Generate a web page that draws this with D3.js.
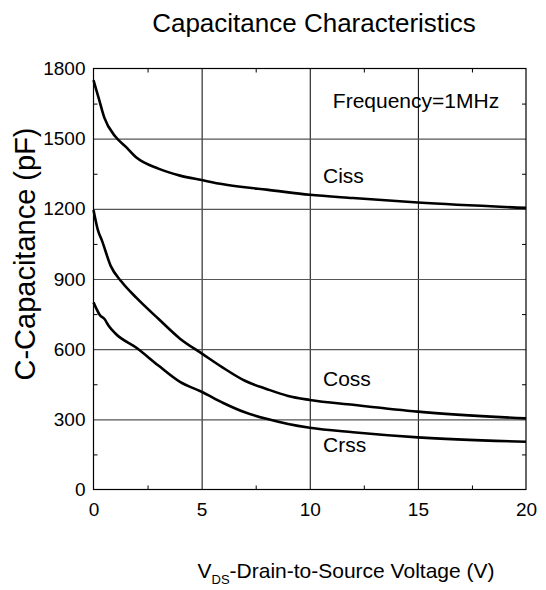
<!DOCTYPE html>
<html>
<head>
<meta charset="utf-8">
<script src="https://cdn.jsdelivr.net/npm/d3@7"></script>
<style>
  body { margin: 0; background: #fff; }
  text { font-family: Arial, "Liberation Sans", sans-serif; fill: #000; }
</style>
</head>
<body>
<script>
// values
const xTicks = [0, 5, 10, 15, 20];
const yTicks = [0, 300, 600, 900, 1200, 1500, 1800];
const xMinor = [2.5, 7.5, 12.5, 17.5];
const yMinor = [150, 450, 750, 1050, 1350, 1650];

const cissV = [0, 0.25, 0.5, 1, 1.5, 2, 3, 4, 5, 6, 7, 8, 10, 12, 15, 20];
const ciss = [1750, 1670, 1590, 1510, 1465, 1418, 1372, 1342, 1323, 1305, 1292, 1282, 1260, 1246, 1227, 1204];

const cossV = [0, 0.2, 0.4, 0.8, 1.3, 2, 3, 4, 5, 6, 7, 8, 9, 10, 12, 15, 20];
const coss = [1195, 1110, 1062, 955, 888, 818, 730, 645, 582, 520, 465, 430, 400, 383, 362, 333, 304];

const crssV = [0, 0.1, 0.3, 0.5, 0.7, 1, 2, 3, 4, 5, 6, 7, 8, 9, 10, 12, 15, 20];
const crss = [800, 780, 745, 730, 700, 668, 605, 530, 460, 418, 370, 330, 302, 280, 264, 245, 223, 204];

const width = 546;
const height = 590;
const pLeft = 93.5, pRight = 526, pTop = 68.5, pBottom = 489.5;

const x = d3.scaleLinear().domain([0, 20]).range([pLeft, pRight]);
const y = d3.scaleLinear().domain([0, 1800]).range([pBottom, pTop]);

const svg = d3.select("body").append("svg")
    .attr("width", width)
    .attr("height", height);

// GRID
svg.append("g")
    .attr("transform", `translate(0, ${pBottom})`)
    .call(d3.axisBottom(x).tickValues(xTicks.slice(1, -1)).tickSize(-(pBottom - pTop)).tickFormat(""))
    .call(g => g.select(".domain").remove())
    .call(g => g.selectAll("line").attr("stroke", "#000").attr("stroke-width", 1));
svg.append("g")
    .attr("transform", `translate(${pLeft}, 0)`)
    .call(d3.axisLeft(y).tickValues(yTicks.slice(1, -1)).tickSize(-(pRight - pLeft)).tickFormat(""))
    .call(g => g.select(".domain").remove())
    .call(g => g.selectAll("line").attr("stroke", "#555").attr("stroke-width", 1.2));

// minor ticks pointing inward on all four sides
const minor = (axis, tr) => svg.append("g")
    .attr("transform", tr)
    .call(axis.tickSize(-4).tickFormat(""))
    .call(g => g.select(".domain").remove())
    .call(g => g.selectAll("line").attr("stroke", "#000"));
minor(d3.axisBottom(x).tickValues(xMinor), `translate(0, ${pBottom})`);
minor(d3.axisTop(x).tickValues(xMinor), `translate(0, ${pTop})`);
minor(d3.axisLeft(y).tickValues(yMinor), `translate(${pLeft}, 0)`);
minor(d3.axisRight(y).tickValues(yMinor), `translate(${pRight}, 0)`);

// frame
svg.append("rect")
    .attr("x", pLeft).attr("y", pTop)
    .attr("width", pRight - pLeft).attr("height", pBottom - pTop)
    .attr("fill", "none").attr("stroke", "#000").attr("stroke-width", 1.2);

// AXES labels
svg.append("g")
    .attr("transform", `translate(0, ${pBottom})`)
    .call(d3.axisBottom(x).tickValues(xTicks).tickSize(0).tickPadding(13).tickFormat(d3.format("d")))
    .call(g => g.select(".domain").remove())
    .call(g => g.selectAll("text").attr("font-size", 19).attr("font-family", "Arial, 'Liberation Sans'"));
svg.append("g")
    .attr("transform", `translate(${pLeft}, 0)`)
    .call(d3.axisLeft(y).tickValues(yTicks).tickSize(0).tickPadding(8).tickFormat(d3.format("d")))
    .call(g => g.select(".domain").remove())
    .call(g => g.selectAll("text").attr("font-size", 19).attr("font-family", "Arial, 'Liberation Sans'"));

// CURVES
const line = d3.line()
    .x(d => x(d[0]))
    .y(d => y(d[1]))
    .curve(d3.curveMonotoneX);
[[cissV, ciss], [cossV, coss], [crssV, crss]].forEach(([vs, cs]) => {
    svg.append("path")
        .datum(vs.map((v, i) => [v, cs[i]]))
        .attr("d", line)
        .attr("fill", "none")
        .attr("stroke", "#000")
        .attr("stroke-width", 2.6)
        .attr("stroke-linejoin", "round");
});

// TEXT
svg.append("text").attr("x", 314).attr("y", 32).attr("text-anchor", "middle")
    .attr("font-size", 26).text("Capacitance Characteristics");
svg.append("text").attr("x", 416).attr("y", 108).attr("text-anchor", "middle")
    .attr("font-size", 21).text("Frequency=1MHz");
svg.append("text").attr("x", 323).attr("y", 183).attr("font-size", 21).text("Ciss");
svg.append("text").attr("x", 323).attr("y", 386).attr("font-size", 21).text("Coss");
svg.append("text").attr("x", 323).attr("y", 452).attr("font-size", 21).text("Crss");

svg.append("text")
    .attr("transform", "translate(35, 254) rotate(-90)")
    .attr("text-anchor", "middle")
    .attr("font-size", 29)
    .text("C-Capacitance (pF)");

const xl = svg.append("text").attr("x", 346).attr("y", 578).attr("text-anchor", "middle").attr("font-size", 21);
xl.append("tspan").text("V");
xl.append("tspan").attr("font-size", 13).attr("dy", 6).text("DS");
xl.append("tspan").attr("dy", -6).text("-Drain-to-Source Voltage (V)");
</script>
</body>
</html>
